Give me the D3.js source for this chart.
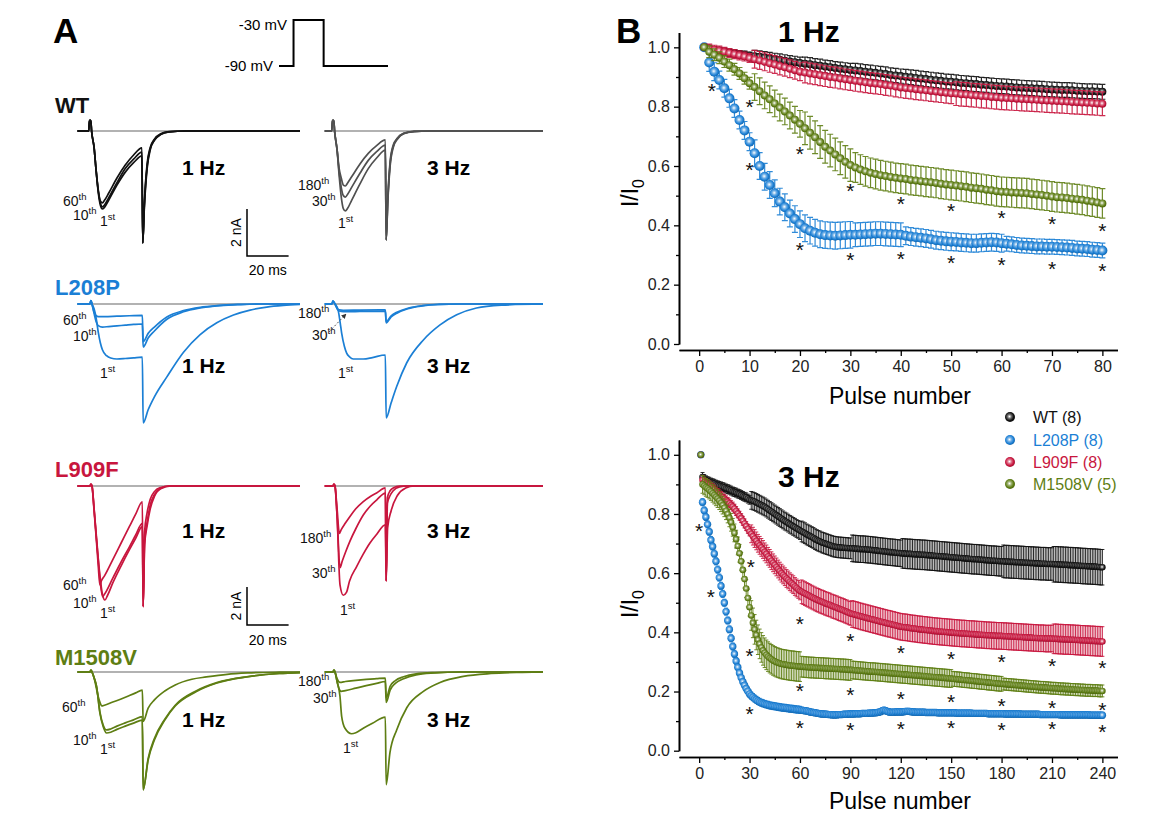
<!DOCTYPE html>
<html>
<head>
<meta charset="utf-8">
<script src="https://cdn.jsdelivr.net/npm/d3@7"></script>
<style>
body { margin: 0; background: #fff; }
text { font-family: Arial, "Liberation Sans", sans-serif; }
</style>
</head>
<body>
<script>
// ---------- data ----------
const mutants = ["WT", "L208P", "L909F", "M1508V"]
const cellsN = [8, 8, 8, 5]
const colors = ["#111111", "#1b7fd5", "#c8163e", "#5e7e13"]
const traceColors1Hz = ["#111111", "#1b7fd5", "#c8163e", "#5e7e13"]
const traceColors3Hz = ["#505050", "#1b7fd5", "#c8163e", "#5e7e13"]

// voltage protocol (ms, mV)
const protoT = [0, 7, 7, 21.5, 21.5, 52.5]
const protoV = [-90, -90, -30, -30, -90, -90]

const sweeps1Hz = ["1st", "10th", "60th"]
const sweeps3Hz = ["1st", "30th", "180th"]

// current traces, [time ms, current nA]
const wt1 = [
  [[-7,0],[-1.6,0],[-1.2,0.45],[-0.6,0.45],[-0.2,0],[1,-0.7],[2,-1.7],[3,-2.6],[4,-3.15],[5,-3.32],[6,-3.25],[8,-2.95],[12,-2.3],[16,-1.75],[20,-1.35],[24,-1.06],[24.4,-4.77],[25.2,-3.2],[26.5,-1.6],[28,-0.8],[30,-0.4],[33,-0.15],[37,-0.04],[45,0],[100,0]],
  [[-7,0],[-1.6,0],[-1.2,0.45],[-0.6,0.45],[-0.2,0],[1,-0.7],[2,-1.7],[3,-2.55],[4,-3.05],[5,-3.23],[6,-3.15],[8,-2.85],[12,-2.2],[16,-1.6],[20,-1.2],[24,-0.9],[24.4,-4.77],[25.2,-3.1],[26.5,-1.5],[28,-0.75],[30,-0.38],[33,-0.14],[37,-0.04],[45,0],[100,0]],
  [[-7,0],[-1.6,0],[-1.2,0.45],[-0.6,0.45],[-0.2,0],[1,-0.7],[2,-1.7],[3,-2.5],[4,-2.98],[5,-3.06],[6,-2.95],[8,-2.65],[12,-2.0],[16,-1.45],[20,-1.02],[24,-0.72],[24.4,-4.77],[25.2,-3.0],[26.5,-1.4],[28,-0.7],[30,-0.35],[33,-0.12],[37,-0.03],[45,0],[100,0]]
]
const wt3 = [
  [[-5,0],[-1.6,0],[-1.2,0.45],[-0.6,0.45],[-0.2,0],[1,-0.8],[2,-1.9],[3,-2.8],[4,-3.3],[5,-3.4],[6,-3.3],[8,-2.95],[12,-2.25],[16,-1.6],[20,-1.15],[24.2,-0.81],[24.6,-4.64],[25.4,-3.0],[26.5,-1.5],[28,-0.7],[30,-0.35],[33,-0.12],[38,-0.03],[45,0],[100,0]],
  [[-5,0],[-1.6,0],[-1.2,0.45],[-0.6,0.45],[-0.2,0],[1,-0.8],[2,-1.75],[3,-2.4],[4,-2.75],[5,-2.81],[6,-2.7],[8,-2.4],[12,-1.8],[16,-1.25],[20,-0.88],[24.2,-0.6],[24.6,-4.64],[25.4,-2.9],[26.5,-1.4],[28,-0.65],[30,-0.32],[33,-0.1],[38,-0.02],[45,0],[100,0]],
  [[-5,0],[-1.6,0],[-1.2,0.45],[-0.6,0.45],[-0.2,0],[1,-0.8],[2,-1.6],[3,-2.0],[4,-2.3],[5,-2.34],[6,-2.22],[8,-1.95],[12,-1.4],[16,-0.95],[20,-0.62],[24.2,-0.38],[24.6,-4.64],[25.4,-2.8],[26.5,-1.3],[28,-0.6],[30,-0.3],[33,-0.1],[38,-0.02],[45,0],[100,0]]
]
const l208p1 = [
  [[-7,0],[-1,0],[-0.5,0.15],[0,0],[1,-0.2],[2,-0.6],[3,-1.2],[4,-1.65],[5,-1.95],[7,-2.2],[9,-2.3],[12,-2.34],[16,-2.32],[20,-2.29],[24.2,-2.26],[24.6,-5.06],[27,-4.5],[30,-3.95],[36,-3.1],[44,-2.05],[52,-1.3],[60,-0.8],[68,-0.47],[76,-0.26],[84,-0.13],[92,-0.06],[100,-0.02]],
  [[-7,0],[-1,0],[-0.5,0.15],[0,0],[1,-0.4],[2,-0.75],[3,-0.92],[5,-0.98],[8,-0.96],[12,-0.93],[16,-0.9],[20,-0.87],[24.2,-0.85],[24.6,-1.83],[27,-1.45],[30,-1.15],[36,-0.65],[44,-0.33],[52,-0.17],[60,-0.08],[70,-0.03],[80,0],[100,0]],
  [[-7,0],[-1,0],[-0.5,0.15],[0,0],[1,-0.35],[2,-0.5],[3,-0.54],[6,-0.54],[12,-0.52],[18,-0.5],[24.2,-0.48],[24.6,-1.6],[27,-1.25],[30,-0.98],[36,-0.55],[44,-0.28],[52,-0.14],[60,-0.07],[70,-0.02],[80,0],[100,0]]
]
const l208p3 = [
  [[-5,0],[-1.5,0],[-1,0.12],[0,0],[1.5,-0.26],[2.5,-0.8],[3.2,-1.24],[4.5,-1.8],[5.6,-2.09],[7,-2.25],[8.8,-2.34],[13.6,-2.34],[18,-2.28],[24.2,-2.17],[24.6,-4.85],[27,-4.2],[29.7,-3.5],[34.5,-2.5],[42.5,-1.53],[50.5,-0.89],[58.5,-0.46],[68,-0.17],[80,-0.05],[100,0]],
  [[-5,0],[-1.5,0],[-1,0.12],[0,0],[1,-0.2],[2,-0.3],[4,-0.33],[12,-0.32],[24.2,-0.3],[24.6,-0.8],[27,-0.55],[30,-0.38],[35,-0.2],[42,-0.08],[50,-0.02],[60,0],[100,0]],
  [[-5,0],[-1.5,0],[-1,0.12],[0,0],[1,-0.18],[2,-0.25],[4,-0.27],[12,-0.26],[24.2,-0.25],[24.6,-0.75],[27,-0.5],[30,-0.34],[35,-0.18],[42,-0.07],[50,-0.02],[60,0],[100,0]]
]
const l909f1 = [
  [[-7,0],[-1,0],[-0.5,0.1],[0,0],[1,-1.2],[2,-2.5],[3,-3.8],[4,-4.9],[5,-5.7],[6.2,-6.0],[7.5,-5.75],[10,-5.1],[14,-4.2],[18,-3.35],[21,-2.75],[24.2,-2.14],[24.6,-6.35],[25.3,-3.1],[26.5,-2.1],[28,-1.2],[30,-0.55],[33,-0.15],[38,0],[100,0]],
  [[-7,0],[-1,0],[-0.5,0.1],[0,0],[1,-1.2],[2,-2.6],[3,-3.9],[4,-5.1],[5.1,-5.82],[6,-5.7],[10,-4.85],[14,-4.0],[18,-3.2],[21,-2.58],[24.2,-1.96],[24.6,-6.35],[25.3,-2.9],[26.5,-1.9],[28,-1.0],[30,-0.45],[33,-0.12],[37,0],[100,0]],
  [[-7,0],[-1,0],[-0.5,0.1],[0,0],[1,-1.3],[2,-2.7],[3,-4.2],[3.8,-5.21],[4.5,-5.0],[6,-4.73],[10,-3.87],[14,-3.0],[18,-2.13],[21,-1.48],[24.2,-0.83],[24.6,-6.35],[25.3,-2.4],[26.5,-1.4],[28,-0.7],[30,-0.3],[33,-0.08],[37,0],[100,0]]
]
const l909f3 = [
  [[-5,0],[-1,0],[-0.5,0.1],[0,0],[1,-1.6],[2.4,-5.2],[4,-5.75],[5.5,-5.6],[7,-5.0],[10.4,-4.24],[13.5,-3.6],[16.8,-3.0],[20,-2.55],[24.2,-2.04],[24.6,-5.0],[25.3,-2.2],[27,-1.3],[30,-0.5],[34,-0.1],[38,0],[100,0]],
  [[-5,0],[-1,0],[-0.5,0.1],[0,0],[1,-1.6],[2.4,-4.3],[3.5,-3.95],[5,-3.5],[7.2,-2.9],[10,-2.25],[13.6,-1.53],[17,-1.05],[20,-0.74],[24.2,-0.37],[24.6,-5.0],[25.2,-0.9],[26.5,-0.5],[28,-0.25],[31,-0.05],[35,0],[100,0]],
  [[-5,0],[-1,0],[-0.5,0.1],[0,0],[1,-1.2],[2.1,-2.5],[3,-2.3],[5,-1.95],[7.2,-1.6],[10,-1.2],[13.6,-0.82],[17,-0.55],[20,-0.37],[24.2,-0.1],[24.6,-5.0],[25.2,-0.6],[26.5,-0.25],[28,-0.1],[31,0],[100,0]]
]
const m1508v1 = [
  [[-7,0],[-1,0],[-0.5,0.1],[0,0],[1,-0.3],[2.2,-0.77],[3.8,-2.16],[5.4,-2.88],[7,-3.21],[9,-3.17],[12,-3.02],[16,-2.85],[20,-2.69],[24.2,-2.53],[24.6,-6.2],[27,-4.63],[30,-3.58],[35,-2.53],[40,-1.79],[50,-1.04],[60,-0.58],[75,-0.25],[90,-0.08],[100,-0.03]],
  [[-7,0],[-1,0],[-0.5,0.1],[0,0],[1,-0.3],[2.2,-0.77],[3.8,-2.1],[5.4,-2.8],[7,-3.05],[9,-3.0],[12,-2.85],[16,-2.68],[20,-2.52],[24.2,-2.35],[24.6,-6.2],[27,-4.55],[30,-3.5],[35,-2.48],[40,-1.75],[50,-1.0],[60,-0.56],[75,-0.24],[90,-0.08],[100,-0.03]],
  [[-7,0],[-1,0],[-0.5,0.1],[0,0],[1,-0.3],[2,-0.8],[3,-1.3],[4,-1.65],[4.7,-1.79],[6,-1.75],[10,-1.58],[14,-1.42],[18,-1.24],[21,-1.1],[24.2,-0.95],[24.6,-2.6],[27,-1.9],[30,-1.47],[35,-1.0],[40,-0.68],[48,-0.38],[55,-0.26],[65,-0.12],[75,-0.05],[90,-0.01],[100,0]]
]
const m1508v3 = [
  [[-5,0],[-1,0],[-0.5,0.1],[0,0],[1,-0.5],[2.4,-1.28],[3.2,-2.33],[4.8,-2.96],[8,-3.25],[10,-3.2],[13.6,-2.96],[18,-2.7],[24.2,-2.37],[24.6,-5.93],[26.4,-4.26],[29.7,-3.04],[34.5,-1.88],[42.5,-1.02],[50.5,-0.55],[61.7,-0.23],[75,-0.08],[90,-0.02],[100,0]],
  [[-5,0],[-1,0],[-0.5,0.1],[0,0],[1,-0.5],[2,-0.9],[3,-1.02],[5,-0.98],[10,-0.85],[15,-0.72],[20,-0.6],[24.2,-0.5],[24.6,-1.6],[26.5,-0.95],[29,-0.6],[33,-0.35],[39,-0.15],[48,-0.05],[60,0],[100,0]],
  [[-5,0],[-1,0],[-0.5,0.1],[0,0],[1,-0.35],[2.4,-0.55],[5,-0.5],[10,-0.44],[15,-0.39],[20,-0.35],[24.2,-0.32],[24.6,-1.37],[26.5,-0.75],[29,-0.45],[33,-0.25],[39,-0.1],[48,-0.03],[60,0],[100,0]]
]
const traces1Hz = [wt1, l208p1, l909f1, m1508v1]
const traces3Hz = [wt3, l208p3, l909f3, m1508v3]

// I/I0, 1 Hz, pulses 1..80
const wtNorm1Hz = [
  1.000,0.995,0.990,0.988,0.985,0.982,0.980,0.977,0.975,0.972,
  0.970,0.968,0.966,0.963,0.960,0.958,0.955,0.952,0.950,0.947,
  0.945,0.943,0.940,0.938,0.935,0.933,0.930,0.928,0.926,0.924,
  0.922,0.920,0.918,0.916,0.914,0.912,0.910,0.907,0.905,0.903,
  0.901,0.899,0.897,0.895,0.893,0.891,0.889,0.887,0.885,0.884,
  0.882,0.880,0.879,0.877,0.876,0.874,0.873,0.871,0.870,0.869,
  0.868,0.866,0.865,0.864,0.863,0.862,0.861,0.860,0.859,0.858,
  0.857,0.856,0.856,0.855,0.854,0.853,0.852,0.852,0.851,0.850]
const l208pNorm1Hz = [
  1.000,0.949,0.918,0.890,0.862,0.828,0.794,0.755,0.720,0.682,
  0.643,0.600,0.564,0.536,0.508,0.480,0.461,0.440,0.421,0.404,
  0.390,0.382,0.375,0.370,0.367,0.366,0.365,0.366,0.367,0.368,
  0.368,0.369,0.370,0.371,0.372,0.372,0.371,0.370,0.369,0.368,
  0.365,0.362,0.360,0.358,0.356,0.353,0.350,0.348,0.346,0.345,
  0.344,0.342,0.341,0.340,0.340,0.341,0.342,0.343,0.342,0.340,
  0.338,0.336,0.334,0.332,0.331,0.330,0.329,0.329,0.328,0.328,
  0.327,0.326,0.325,0.324,0.322,0.321,0.320,0.318,0.317,0.315]
const l909fNorm1Hz = [
  1.000,0.996,0.992,0.989,0.985,0.981,0.977,0.973,0.969,0.964,
  0.960,0.956,0.951,0.946,0.942,0.937,0.933,0.928,0.923,0.918,
  0.915,0.912,0.909,0.906,0.903,0.900,0.898,0.895,0.892,0.890,
  0.887,0.885,0.882,0.880,0.878,0.876,0.873,0.871,0.868,0.865,
  0.863,0.861,0.859,0.857,0.855,0.853,0.851,0.849,0.847,0.845,
  0.844,0.842,0.841,0.839,0.838,0.836,0.835,0.833,0.832,0.830,
  0.829,0.828,0.827,0.826,0.825,0.824,0.823,0.822,0.821,0.820,
  0.819,0.818,0.817,0.816,0.815,0.814,0.813,0.812,0.811,0.810]
const m1508vNorm1Hz = [
  1.000,0.985,0.975,0.965,0.952,0.940,0.926,0.912,0.896,0.879,
  0.866,0.852,0.838,0.825,0.811,0.797,0.784,0.770,0.756,0.742,
  0.727,0.712,0.697,0.681,0.665,0.652,0.639,0.626,0.614,0.603,
  0.595,0.588,0.582,0.577,0.573,0.569,0.566,0.563,0.560,0.558,
  0.556,0.553,0.551,0.549,0.547,0.545,0.543,0.540,0.538,0.536,
  0.534,0.532,0.530,0.527,0.525,0.523,0.520,0.518,0.515,0.513,
  0.512,0.511,0.510,0.509,0.508,0.506,0.504,0.502,0.500,0.497,
  0.495,0.494,0.492,0.490,0.488,0.486,0.483,0.480,0.477,0.474]
// SEM, one value per block of 10 pulses
const sem1Hz = [
  [0.012,0.020,0.022,0.024,0.025,0.025,0.025,0.025],
  [0.030,0.045,0.045,0.040,0.030,0.030,0.025,0.025],
  [0.015,0.030,0.035,0.035,0.035,0.040,0.040,0.040],
  [0.020,0.045,0.055,0.050,0.050,0.050,0.050,0.050]
]

// I/I0, 3 Hz, pulses 1..240
const wtNorm3Hz = [
  1.000,0.925,0.918,0.914,0.911,0.909,0.906,0.904,0.902,0.899,
  0.897,0.895,0.893,0.891,0.889,0.886,0.884,0.882,0.879,0.876,
  0.874,0.872,0.869,0.867,0.864,0.861,0.858,0.856,0.852,0.848,
  0.846,0.844,0.842,0.839,0.836,0.833,0.830,0.827,0.824,0.820,
  0.816,0.812,0.808,0.804,0.800,0.796,0.792,0.788,0.784,0.780,
  0.776,0.773,0.769,0.765,0.762,0.758,0.755,0.751,0.748,0.744,
  0.741,0.738,0.735,0.731,0.728,0.725,0.722,0.719,0.715,0.712,
  0.709,0.707,0.704,0.702,0.700,0.698,0.696,0.694,0.692,0.690,
  0.689,0.688,0.687,0.687,0.686,0.686,0.685,0.685,0.684,0.684,
  0.684,0.683,0.683,0.682,0.682,0.681,0.681,0.681,0.680,0.680,
  0.679,0.679,0.678,0.677,0.677,0.676,0.675,0.675,0.674,0.673,
  0.673,0.672,0.671,0.671,0.670,0.670,0.669,0.668,0.668,0.667,
  0.667,0.666,0.666,0.665,0.665,0.665,0.664,0.664,0.663,0.663,
  0.663,0.662,0.662,0.662,0.661,0.661,0.660,0.660,0.659,0.659,
  0.658,0.658,0.657,0.657,0.656,0.656,0.655,0.655,0.654,0.654,
  0.653,0.653,0.652,0.652,0.651,0.651,0.650,0.650,0.649,0.649,
  0.648,0.648,0.647,0.647,0.647,0.646,0.646,0.645,0.645,0.644,
  0.644,0.643,0.643,0.642,0.642,0.642,0.641,0.641,0.640,0.640,
  0.640,0.639,0.639,0.639,0.638,0.638,0.638,0.637,0.637,0.637,
  0.636,0.636,0.636,0.635,0.635,0.635,0.634,0.634,0.634,0.633,
  0.633,0.633,0.632,0.632,0.632,0.632,0.631,0.631,0.631,0.631,
  0.630,0.630,0.630,0.629,0.629,0.629,0.628,0.628,0.628,0.627,
  0.627,0.627,0.626,0.626,0.626,0.625,0.625,0.624,0.624,0.624,
  0.623,0.623,0.623,0.622,0.622,0.622,0.621,0.621,0.620,0.620]
const l208pNorm3Hz = [
  1.000,0.840,0.812,0.790,0.765,0.740,0.712,0.690,0.666,0.640,
  0.612,0.585,0.557,0.530,0.500,0.470,0.440,0.410,0.380,0.352,
  0.327,0.303,0.282,0.263,0.247,0.233,0.221,0.210,0.201,0.192,
  0.186,0.181,0.176,0.172,0.168,0.165,0.162,0.160,0.158,0.156,
  0.155,0.153,0.152,0.151,0.150,0.149,0.148,0.147,0.146,0.145,
  0.145,0.144,0.143,0.142,0.142,0.141,0.140,0.139,0.139,0.138,
  0.137,0.136,0.135,0.134,0.133,0.131,0.130,0.129,0.128,0.127,
  0.126,0.125,0.124,0.124,0.123,0.123,0.122,0.122,0.121,0.121,
  0.121,0.121,0.122,0.122,0.122,0.123,0.123,0.123,0.124,0.124,
  0.124,0.124,0.125,0.125,0.125,0.125,0.126,0.126,0.126,0.126,
  0.127,0.127,0.127,0.128,0.128,0.129,0.130,0.132,0.135,0.137,
  0.135,0.133,0.131,0.130,0.130,0.130,0.131,0.131,0.131,0.131,
  0.131,0.132,0.133,0.133,0.133,0.132,0.131,0.131,0.130,0.130,
  0.130,0.130,0.130,0.130,0.129,0.129,0.129,0.129,0.129,0.129,
  0.129,0.128,0.128,0.128,0.128,0.128,0.128,0.128,0.128,0.128,
  0.128,0.128,0.127,0.127,0.127,0.127,0.127,0.127,0.127,0.127,
  0.127,0.127,0.126,0.126,0.126,0.126,0.126,0.126,0.126,0.126,
  0.126,0.125,0.125,0.125,0.125,0.125,0.125,0.125,0.125,0.125,
  0.125,0.124,0.124,0.124,0.124,0.124,0.124,0.124,0.124,0.124,
  0.124,0.123,0.123,0.123,0.123,0.123,0.123,0.123,0.123,0.123,
  0.123,0.123,0.122,0.122,0.122,0.122,0.122,0.122,0.122,0.122,
  0.122,0.122,0.122,0.122,0.121,0.121,0.121,0.121,0.121,0.121,
  0.121,0.121,0.121,0.121,0.121,0.121,0.121,0.121,0.121,0.121,
  0.121,0.121,0.120,0.120,0.120,0.120,0.120,0.120,0.120,0.120]
const l909fNorm3Hz = [
  1.000,0.915,0.908,0.904,0.900,0.896,0.892,0.887,0.882,0.876,
  0.871,0.866,0.861,0.856,0.851,0.846,0.841,0.836,0.830,0.825,
  0.818,0.810,0.802,0.794,0.786,0.777,0.768,0.759,0.750,0.741,
  0.733,0.725,0.717,0.709,0.701,0.694,0.687,0.680,0.672,0.665,
  0.657,0.650,0.642,0.635,0.628,0.621,0.614,0.607,0.600,0.594,
  0.588,0.582,0.577,0.571,0.566,0.561,0.555,0.550,0.545,0.540,
  0.537,0.534,0.531,0.528,0.525,0.522,0.519,0.516,0.513,0.510,
  0.508,0.505,0.503,0.501,0.498,0.496,0.494,0.492,0.489,0.487,
  0.485,0.483,0.480,0.478,0.476,0.474,0.471,0.469,0.466,0.464,
  0.462,0.461,0.459,0.458,0.456,0.454,0.453,0.451,0.450,0.448,
  0.447,0.445,0.444,0.442,0.441,0.439,0.438,0.436,0.435,0.433,
  0.432,0.430,0.429,0.428,0.426,0.425,0.423,0.422,0.420,0.419,
  0.418,0.417,0.417,0.416,0.415,0.414,0.413,0.413,0.412,0.411,
  0.410,0.410,0.409,0.408,0.408,0.407,0.406,0.406,0.405,0.404,
  0.404,0.403,0.403,0.402,0.402,0.401,0.401,0.400,0.400,0.399,
  0.399,0.398,0.398,0.397,0.397,0.396,0.396,0.396,0.395,0.395,
  0.394,0.394,0.394,0.393,0.393,0.392,0.392,0.392,0.391,0.391,
  0.390,0.390,0.390,0.389,0.389,0.389,0.388,0.388,0.388,0.388,
  0.387,0.387,0.387,0.386,0.386,0.386,0.385,0.385,0.385,0.384,
  0.384,0.384,0.383,0.383,0.383,0.382,0.382,0.382,0.381,0.381,
  0.381,0.380,0.380,0.380,0.380,0.379,0.379,0.379,0.379,0.379,
  0.378,0.378,0.378,0.377,0.377,0.377,0.376,0.376,0.376,0.376,
  0.375,0.375,0.375,0.374,0.374,0.374,0.373,0.373,0.373,0.372,
  0.372,0.372,0.371,0.371,0.371,0.370,0.370,0.370,0.369,0.369]
const m1508vNorm3Hz = [
  1.000,0.900,0.895,0.890,0.886,0.881,0.876,0.870,0.864,0.858,
  0.852,0.845,0.838,0.830,0.821,0.811,0.800,0.787,0.772,0.755,
  0.736,0.715,0.692,0.667,0.640,0.611,0.580,0.548,0.516,0.485,
  0.457,0.432,0.410,0.391,0.375,0.361,0.349,0.339,0.331,0.324,
  0.318,0.313,0.309,0.305,0.302,0.299,0.297,0.295,0.293,0.292,
  0.291,0.290,0.289,0.288,0.287,0.287,0.286,0.285,0.285,0.284,
  0.284,0.283,0.283,0.282,0.282,0.281,0.281,0.281,0.280,0.280,
  0.280,0.279,0.279,0.279,0.278,0.278,0.278,0.277,0.277,0.277,
  0.276,0.276,0.276,0.275,0.275,0.275,0.274,0.274,0.273,0.273,
  0.273,0.272,0.272,0.271,0.271,0.270,0.270,0.269,0.269,0.268,
  0.268,0.267,0.267,0.267,0.266,0.266,0.265,0.265,0.264,0.264,
  0.263,0.263,0.262,0.262,0.261,0.261,0.260,0.260,0.259,0.259,
  0.258,0.258,0.257,0.257,0.256,0.256,0.255,0.255,0.254,0.254,
  0.253,0.253,0.252,0.252,0.251,0.251,0.250,0.250,0.249,0.249,
  0.248,0.248,0.247,0.247,0.246,0.246,0.245,0.245,0.244,0.244,
  0.243,0.242,0.242,0.241,0.241,0.240,0.239,0.239,0.238,0.238,
  0.237,0.236,0.236,0.235,0.235,0.234,0.233,0.233,0.232,0.232,
  0.231,0.230,0.230,0.229,0.229,0.228,0.227,0.227,0.226,0.226,
  0.225,0.225,0.224,0.224,0.223,0.223,0.222,0.222,0.221,0.221,
  0.220,0.220,0.219,0.219,0.218,0.218,0.217,0.217,0.216,0.216,
  0.215,0.215,0.214,0.214,0.214,0.213,0.213,0.212,0.212,0.211,
  0.211,0.211,0.210,0.210,0.209,0.209,0.209,0.208,0.208,0.208,
  0.207,0.207,0.207,0.206,0.206,0.206,0.205,0.205,0.205,0.204,
  0.204,0.204,0.204,0.203,0.203,0.203,0.203,0.202,0.202,0.202]
// SEM, one value per block of 30 pulses
const sem3Hz = [
  [0.015,0.030,0.035,0.045,0.050,0.050,0.055,0.060],
  [0.012,0.012,0.010,0.010,0.010,0.010,0.010,0.010],
  [0.015,0.030,0.040,0.045,0.045,0.045,0.045,0.050],
  [0.030,0.050,0.035,0.030,0.030,0.025,0.020,0.020]
]

// significance marks [pulse, I/I0]
const stars1Hz = [[2.5,0.87],[10,0.817],[20,0.657],[30,0.533],[40,0.488],[50,0.466],[60,0.44],[70,0.42],[80,0.398],
  [10,0.603],[20,0.334],[30,0.30],[40,0.305],[50,0.291],[60,0.283],[70,0.268],[80,0.264]]
const stars3Hz = [[0,0.761],[6.9,0.538],[30.7,0.637],[60,0.444],[90,0.386],[120,0.346],[150,0.327],[180,0.316],[210,0.303],[240,0.295],
  [30,0.338],[60,0.22],[90,0.205],[120,0.192],[150,0.183],[180,0.168],[210,0.16],[240,0.154],
  [30,0.14],[60,0.095],[90,0.087],[120,0.09],[150,0.092],[180,0.087],[210,0.09],[240,0.081]]

const xTicks1Hz = [0, 10, 20, 30, 40, 50, 60, 70, 80]
const xMinor1Hz = [5, 15, 25, 35, 45, 55, 65, 75]
const xTicks3Hz = [0, 30, 60, 90, 120, 150, 180, 210, 240]
const xMinor3Hz = [15, 45, 75, 105, 135, 165, 195, 225]
const yTicks = [0, 0.2, 0.4, 0.6, 0.8, 1.0]
const yMinor = [0.1, 0.3, 0.5, 0.7, 0.9]

// ---------- layout ----------
const W = 1173, H = 813
const svg = d3.select("body").append("svg").attr("width", W).attr("height", H)

const rows = [
  {y0: 131, k: 23.5, titleY: 113, hzY: 175},
  {y0: 304, k: 23.5, titleY: 295, hzY: 373},
  {y0: 486, k: 19, titleY: 477, hzY: 538},
  {y0: 672, k: 19, titleY: 665, hzY: 727}
]
const labelPos1Hz = [
  [[100,226],[73,220],[63,206]],
  [[100,378],[73,341],[63,325]],
  [[100,618],[73,608],[63,590]],
  [[100,754],[73,745],[62,712]]
]
const labelPos3Hz = [
  [[338,228],[312,206],[298,190]],
  [[338,378],[312,340],[298,318]],
  [[340,615],[312,578],[300,543]],
  [[343,753],[313,703],[298,686]]
]

const t1 = d3.scaleLinear().domain([0, 100]).range([92, 300])
const t3 = d3.scaleLinear().domain([0, 100]).range([335, 543])

// ---------- panel A ----------
svg.append("text").attr("x", 53).attr("y", 43).attr("font-size", 35).attr("font-weight", "bold").text("A")

// protocol
const pt = d3.scaleLinear().domain([0, 52.5]).range([279, 388])
const pv = d3.scaleLinear().domain([-90, -30]).range([66, 20])
svg.append("path")
  .attr("d", d3.line().x((d, i) => pt(protoT[i])).y(d => pv(d))(protoV))
  .attr("fill", "none").attr("stroke", "#000").attr("stroke-width", 2)
svg.append("text").attr("x", 287).attr("y", 30).attr("font-size", 15).attr("text-anchor", "end").text("-30 mV")
svg.append("text").attr("x", 273).attr("y", 71).attr("font-size", 15).attr("text-anchor", "end").text("-90 mV")

function addSweepLabel(g, label, pos) {
  const num = label.replace(/\D/g, "")
  const suf = label.replace(/\d/g, "")
  const t = g.append("text").attr("x", pos[0]).attr("y", pos[1]).attr("font-size", 14).attr("fill", "#111")
  t.append("tspan").text(num)
  t.append("tspan").attr("dy", -6).attr("font-size", 9.5).text(suf)
}

mutants.forEach((m, r) => {
  const row = rows[r]
  const yI = d3.scaleLinear().domain([0, -1]).range([row.y0, row.y0 + row.k])
  const g = svg.append("g")

  g.append("text").attr("x", 55).attr("y", row.titleY).attr("font-size", 22).attr("font-weight", "bold")
    .attr("fill", colors[r]).text(m)

  // baselines
  g.append("line").attr("x1", t1(-7.2)).attr("x2", t1(100)).attr("y1", yI(0)).attr("y2", yI(0))
    .attr("stroke", "#999").attr("stroke-width", 1.6)
  g.append("line").attr("x1", t3(-4.8)).attr("x2", t3(100)).attr("y1", yI(0)).attr("y2", yI(0))
    .attr("stroke", "#999").attr("stroke-width", 1.6)

  const line1 = d3.line().x(d => t1(d[0])).y(d => yI(d[1])).curve(d3.curveMonotoneX)
  const line3 = d3.line().x(d => t3(d[0])).y(d => yI(d[1])).curve(d3.curveMonotoneX)

  traces1Hz[r].forEach(tr => {
    g.append("path").attr("d", line1(tr)).attr("fill", "none")
      .attr("stroke", traceColors1Hz[r]).attr("stroke-width", 1.7)
  })
  traces3Hz[r].forEach(tr => {
    g.append("path").attr("d", line3(tr)).attr("fill", "none")
      .attr("stroke", traceColors3Hz[r]).attr("stroke-width", 1.7)
  })

  sweeps1Hz.forEach((s, i) => addSweepLabel(g, s, labelPos1Hz[r][i]))
  sweeps3Hz.forEach((s, i) => addSweepLabel(g, s, labelPos3Hz[r][i]))

  g.append("text").attr("x", 182).attr("y", row.hzY).attr("font-size", 21).attr("font-weight", "bold").text("1 Hz")
  g.append("text").attr("x", 427).attr("y", row.hzY).attr("font-size", 21).attr("font-weight", "bold").text("3 Hz")
})

// dashed pointer for L208P 3 Hz
const defs = svg.append("defs")
defs.append("marker").attr("id", "arr").attr("viewBox", "0 0 10 10").attr("refX", 9).attr("refY", 5)
  .attr("markerWidth", 5).attr("markerHeight", 5).attr("orient", "auto")
  .append("path").attr("d", "M0,0L10,5L0,10z").attr("fill", "#333")
svg.append("line").attr("x1", 329).attr("y1", 332).attr("x2", 346).attr("y2", 314)
  .attr("stroke", "#555").attr("stroke-width", 1).attr("stroke-dasharray", "2,2").attr("marker-end", "url(#arr)")

// scale bars
;[{r: 0, corner: [247, 256], tY: 275}, {r: 2, corner: [247, 625], tY: 645}].forEach(sb => {
  const row = rows[sb.r]
  const len2nA = 2 * row.k
  const len20 = t1(20) - t1(0)
  const [cx, cy] = sb.corner
  svg.append("path").attr("d", `M${cx},${cy - len2nA}L${cx},${cy}L${cx + len20},${cy}`)
    .attr("fill", "none").attr("stroke", "#000").attr("stroke-width", 1.5)
  svg.append("text").attr("transform", `translate(${cx - 6},${cy - len2nA / 2}) rotate(-90)`)
    .attr("text-anchor", "middle").attr("font-size", 14).text("2 nA")
  svg.append("text").attr("x", cx + len20 / 2).attr("y", sb.tY).attr("text-anchor", "middle")
    .attr("font-size", 14).text("20 ms")
})

// ---------- panel B ----------
svg.append("text").attr("x", 616).attr("y", 43).attr("font-size", 35).attr("font-weight", "bold").text("B")

// sphere-like marker gradients
colors.forEach((c, i) => {
  const gr = defs.append("radialGradient").attr("id", "ball" + i).attr("cx", "45%").attr("cy", "45%").attr("r", "55%")
  gr.append("stop").attr("offset", "0%").attr("stop-color", "#ffffff")
  gr.append("stop").attr("offset", "40%").attr("stop-color", d3.interpolateRgb(c, "#fff")(0.35))
  gr.append("stop").attr("offset", "75%").attr("stop-color", c)
  gr.append("stop").attr("offset", "100%").attr("stop-color", d3.color(c).darker(0.6))
})

function drawPanel(cfg) {
  const x = d3.scaleLinear().domain(cfg.xDomain).range([679, 1117.5])
  const y = d3.scaleLinear().domain([0, 1.05]).range(cfg.yRange)
  const g = svg.append("g")

  // axes
  g.append("g").attr("transform", "translate(679,0)")
    .call(d3.axisLeft(y).tickValues(yTicks).tickFormat(d3.format(".1f")).tickSize(5).tickSizeOuter(0).tickPadding(4))
  g.append("g").attr("transform", "translate(679,0)")
    .call(d3.axisLeft(y).tickValues(yMinor).tickFormat("").tickSize(3).tickSizeOuter(0))
  g.append("g").attr("transform", `translate(0,${cfg.xAxisY})`)
    .call(d3.axisBottom(x).tickValues(cfg.ticks).tickSize(6).tickSizeOuter(0).tickPadding(5))
  g.append("g").attr("transform", `translate(0,${cfg.xAxisY})`)
    .call(d3.axisBottom(x).tickValues(cfg.minor).tickFormat("").tickSize(3).tickSizeOuter(0))
  g.selectAll(".domain").attr("stroke", "#000").attr("stroke-width", 1.6)
  g.selectAll(".tick line").attr("stroke", "#000").attr("stroke-width", 1.3)
  g.selectAll(".tick text").attr("font-size", 16).attr("fill", "#222")
    .attr("font-family", "Arial, 'Liberation Sans', sans-serif")

  // axis titles
  const yl = g.append("text").attr("transform", `translate(638,${cfg.yLabelY}) rotate(-90)`)
    .attr("text-anchor", "middle").attr("font-size", 23)
  yl.append("tspan").text("I/I")
  yl.append("tspan").attr("dy", 6).attr("font-size", 16).text("0")
  g.append("text").attr("x", 900).attr("y", cfg.xLabelY).attr("text-anchor", "middle")
    .attr("font-size", 23).text("Pulse number")
  g.append("text").attr("x", 778).attr("y", cfg.titleY).attr("font-size", 30).attr("font-weight", "bold").text(cfg.title)

  // series
  cfg.series.forEach((vals, s) => {
    const sg = g.append("g")
    const pts = vals.map((v, i) => ({p: i + 1, v: v, e: i === 0 ? 0 : cfg.sem[s][Math.min(Math.floor(i / cfg.block), cfg.sem[s].length - 1)]}))
    sg.selectAll("path.eb").data(pts.filter(d => d.e > 0)).enter().append("path")
      .attr("d", d => {
        const xx = x(d.p), y1 = y(d.v + d.e), y2 = y(d.v - d.e), c = cfg.cap
        return `M${xx},${y1}L${xx},${y2}M${xx - c},${y1}L${xx + c},${y1}M${xx - c},${y2}L${xx + c},${y2}`
      })
      .attr("stroke", colors[s]).attr("stroke-width", cfg.ebWidth).attr("fill", "none").attr("opacity", 0.9)
    sg.selectAll("circle").data(pts).enter().append("circle")
      .attr("cx", d => x(d.p)).attr("cy", d => y(d.v)).attr("r", cfg.radius[s])
      .attr("fill", `url(#ball${s})`)
  })

  // asterisks
  g.selectAll("text.star").data(cfg.stars).enter().append("text")
    .attr("x", d => x(d[0])).attr("y", d => y(d[1]) + 12)
    .attr("text-anchor", "middle").attr("font-size", 21).attr("fill", "#111").text("*")
}

drawPanel({
  xDomain: [-4, 83], yRange: [344, 32.5], xAxisY: 350,
  ticks: xTicks1Hz, minor: xMinor1Hz,
  series: [wtNorm1Hz, l208pNorm1Hz, l909fNorm1Hz, m1508vNorm1Hz],
  sem: sem1Hz, block: 10, cap: 3, ebWidth: 1.2,
  radius: [4, 5, 4, 4], stars: stars1Hz,
  title: "1 Hz", titleY: 42, yLabelY: 193, xLabelY: 404
})
drawPanel({
  xDomain: [-12, 249], yRange: [750.7, 440], xAxisY: 757,
  ticks: xTicks3Hz, minor: xMinor3Hz,
  series: [wtNorm3Hz, l208pNorm3Hz, l909fNorm3Hz, m1508vNorm3Hz],
  sem: sem3Hz, block: 30, cap: 2, ebWidth: 1,
  radius: [3.3, 3.7, 3.3, 3.3], stars: stars3Hz,
  title: "3 Hz", titleY: 487, yLabelY: 604, xLabelY: 809
})

// legend
const legY = [417, 440, 462, 484]
mutants.forEach((m, i) => {
  svg.append("circle").attr("cx", 1010).attr("cy", legY[i]).attr("r", 5).attr("fill", `url(#ball${i})`)
  svg.append("text").attr("x", 1033).attr("y", legY[i] + 6).attr("font-size", 16).attr("fill", colors[i])
    .text(`${m} (${cellsN[i]})`)
})
</script>
</body>
</html>
